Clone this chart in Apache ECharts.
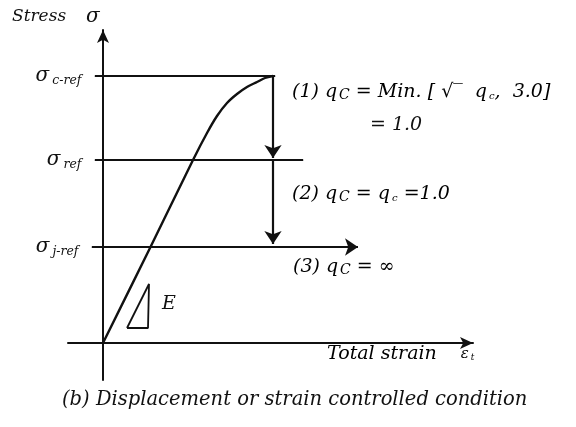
<!DOCTYPE html>
<html><head><meta charset="utf-8">
<script src="https://cdn.jsdelivr.net/npm/echarts@6/dist/echarts.min.js"></script>
<style>html,body{margin:0;padding:0;background:#fff}#chart{width:576px;height:427px}</style>
</head><body><div id="chart"></div>
<script>
// Loading path: strain vs stress (drawing units)
const curveStrain = [0, 0.47, 0.90, 1.04, 1.14, 1.24, 1.34, 1.44, 1.54, 1.62, 1.70];
const curveStress = [0, 0.95, 1.83, 2.10, 2.27, 2.40, 2.49, 2.56, 2.61, 2.65, 2.67];

// Reference stress levels and the extent of their guide lines
const refNames = ['c-ref', 'ref', 'j-ref'];
const refStress = [2.67, 1.83, 0.96];
const refStart = [-0.08, -0.08, -0.11];
const refEnd = [1.72, 2.00, 1.70];

// Post-peak path: drop at constant strain, then run out horizontally
const dropStrain = 1.70;
const runoutEnd = 2.55;

// Stiffness triangle E
const triStrain = [0.24, 0.45, 0.46, 0.24];
const triStress = [0.15, 0.15, 0.59, 0.15];

const FONT = '"DejaVu Serif", "Liberation Serif", serif';
const ink = '#111';

const refSeries = refNames.map((nm, i) => ({
  type: 'line',
  silent: true,
  symbol: 'circle',
  symbolSize: 1,
  itemStyle: { color: ink },
  lineStyle: { color: ink, width: 1.8 },
  data: [
    {
      value: [refStart[i], refStress[i]],
      label: {
        show: true,
        position: 'left',
        distance: 13,
        formatter: '{s|σ}{sub|' + nm + '}',
        rich: {
          s: { fontFamily: FONT, fontStyle: 'italic', fontSize: 20, color: ink },
          sub: { fontFamily: FONT, fontStyle: 'italic', fontSize: 12.5, color: ink, padding: [9, 0, 0, 3] }
        }
      }
    },
    [refEnd[i], refStress[i]]
  ]
}));

const arrowSegs = [
  [[dropStrain, refStress[0]], [dropStrain, refStress[1] + 0.02]],
  [[dropStrain, refStress[1]], [dropStrain, refStress[2] + 0.03]],
  [[dropStrain, refStress[2]], [runoutEnd, refStress[2]]]
];

const sub = (size, pad) => ({ fontFamily: FONT, fontStyle: 'italic', fontSize: size, color: ink, padding: [pad, 0, 0, 2] });
const main = { fontFamily: FONT, fontStyle: 'italic', fontSize: 19, color: ink };

const option = {
  animation: false,
  backgroundColor: '#fff',
  grid: { left: 68, right: 103, top: 30, bottom: 47 },
  xAxis: {
    type: 'value', min: -0.35, max: 3.70,
    axisLine: { onZero: true, symbol: ['none', 'arrow'], symbolSize: [9, 13], lineStyle: { color: ink, width: 2 } },
    axisTick: { show: false }, axisLabel: { show: false }, splitLine: { show: false }
  },
  yAxis: {
    type: 'value', min: -0.37, max: 3.13,
    axisLine: { onZero: true, symbol: ['none', 'arrow'], symbolSize: [9, 13], lineStyle: { color: ink, width: 2 } },
    axisTick: { show: false }, axisLabel: { show: false }, splitLine: { show: false }
  },
  series: [
    ...refSeries,
    {
      type: 'line', silent: true, symbol: 'none', smooth: 0.3,
      lineStyle: { color: ink, width: 2.4 },
      data: curveStrain.map((x, i) => [x, curveStress[i]])
    },
    {
      type: 'line', silent: true, symbol: 'none',
      lineStyle: { color: ink, width: 1.8 },
      data: triStrain.map((x, i) => [x, triStress[i]])
    },
    {
      type: 'lines', coordinateSystem: 'cartesian2d', silent: true,
      symbol: ['none', 'arrow'], symbolSize: 13,
      lineStyle: { color: ink, width: 2.2, opacity: 1 },
      itemStyle: { color: ink },
      data: arrowSegs.map(c => ({ coords: c }))
    }
  ],
  graphic: [
    { type: 'text', left: 12, top: 8, style: { text: 'Stress', font: 'italic 17px ' + FONT, fill: ink } },
    { type: 'text', left: 86, top: 7, style: { text: 'σ', font: 'italic 20px ' + FONT, fill: ink } },
    { type: 'text', left: 162, top: 295, style: { text: 'E', font: 'italic 19px ' + FONT, fill: ink } },
    {
      type: 'text', left: 292, top: 83,
      style: {
        text: '{t|(1) q}{c|C}{t| = Min. [ √‾  q}{s|c}{t|,  3.0]}',
        rich: { t: main, c: sub(14, 6), s: sub(10, 8) }
      }
    },
    { type: 'text', left: 370, top: 116, style: { text: '= 1.0', font: 'italic 19px ' + FONT, fill: ink } },
    {
      type: 'text', left: 292, top: 185,
      style: {
        text: '{t|(2) q}{c|C}{t| = q}{s|c}{t| =1.0}',
        rich: { t: main, c: sub(14, 6), s: sub(10, 8) }
      }
    },
    {
      type: 'text', left: 293, top: 258,
      style: {
        text: '{t|(3) q}{c|C}{t| = ∞}',
        rich: { t: main, c: sub(14, 6) }
      }
    },
    {
      type: 'text', left: 327, top: 345,
      style: {
        text: '{t|Total strain}{e|     ε}{s|t}',
        rich: { t: main, e: { fontFamily: FONT, fontStyle: 'italic', fontSize: 15, color: ink }, s: sub(9, 7) }
      }
    },
    { type: 'text', left: 62, top: 390, style: { text: '(b) Displacement or strain controlled condition', font: 'italic 19.5px ' + FONT, fill: ink } }
  ]
};

const chart = echarts.init(document.getElementById('chart'), null, { renderer: 'canvas' });
chart.setOption(option);
</script>
</body></html>
